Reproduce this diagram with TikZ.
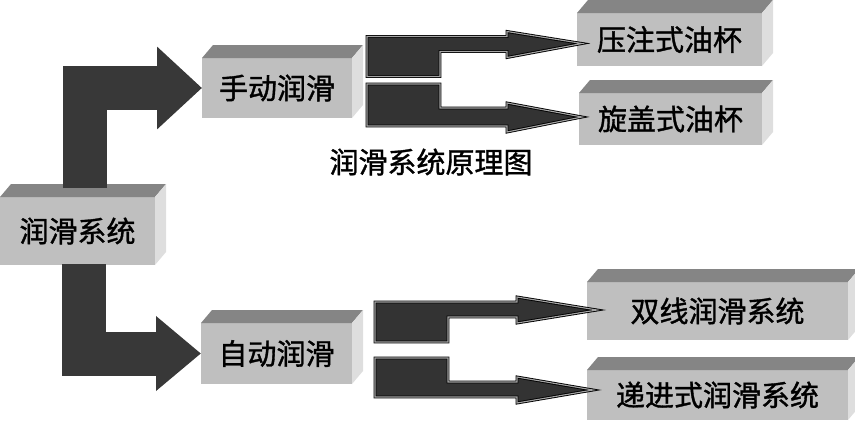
\documentclass[tikz,border=0pt]{standalone}
\usepackage{fontspec}
\newfontfamily\cjk[FakeBold=1.2]{Noto Sans CJK SC}
\usetikzlibrary{arrows.meta,calc}

\tikzset{
  box/.style={fill=black!25, inner sep=0pt, outer sep=0pt, font=\cjk\fontsize{29}{30}\selectfont},
  topface/.style={fill=black!48},
  sideface/.style={fill=black!13},
  bigarrow/.style={draw=black!78, line width=44pt, -{Triangle[length=45pt,width=#1]}},
  smallarrow/.style={fill=black!80, draw=black, double=black!35, double distance=1.1pt, line width=0.9pt, line join=miter},
}

\begin{document}
\begin{tikzpicture}[x=1pt, y=-1pt]
    \useasboundingbox (0,0) rectangle (855,431);

    % boxes
    \node[box, minimum width=155pt, minimum height=68pt] (lube) at (77.5,231) {润滑系统};
    \node[box, minimum width=150pt, minimum height=60pt] (manual) at (277,88) {手动润滑};
    \node[box, minimum width=151pt, minimum height=61pt] (auto) at (276.5,353.5) {自动润滑};
    \node[box, minimum width=185pt, minimum height=53pt] (cupA) at (669.5,39.5) {压注式油杯};
    \node[box, minimum width=183pt, minimum height=52pt] (cupB) at (670.5,119) {旋盖式油杯};
    \node[box, minimum width=261pt, minimum height=58pt] (dual) at (717.5,311) {双线润滑系统};
    \node[box, minimum width=261pt, minimum height=50pt] (prog) at (717.5,395) {递进式润滑系统};

    \node[font=\cjk\fontsize{29}{30}\selectfont] (title) at (431,162) {润滑系统原理图};

    % 3d faces
    \foreach \n in {lube,manual,auto,cupA,cupB,dual,prog} {
        \fill[topface] (\n.north west) -- ++(11,-13) -- ([shift={(11,-13)}]\n.north east) -- (\n.north east) -- cycle;
        \fill[sideface] (\n.north east) -- ++(11,-13) -- ([shift={(11,-13)}]\n.south east) -- (\n.south east) -- cycle;
    }

    % main arrows
    \draw[bigarrow=80pt] ([shift={(7,-9)}]lube.north) |- (manual.west);
    \draw[bigarrow=72pt] ([shift={(6,-1)}]lube.south) |- (auto.west);

    % small arrows
    \draw[smallarrow] ([shift={(5,4)}]cupA.west) -- ++(-75,-12) -- ++(0,5) -- ++(-140,0) -- ++(0,40)
        -- ++(73,0) -- ++(0,-25) -- ++(67,0) -- ++(0,6) -- cycle;
    \draw[smallarrow] ([shift={(3,-2)}]cupB.west) -- ++(-75,-14) -- ++(0,5) -- ++(-67,0) -- ++(0,-24)
        -- ++(-73,0) -- ++(0,42) -- ++(140,0) -- ++(0,6) -- cycle;
    \draw[smallarrow] ([shift={(10,-1)}]dual.west) -- ++(-80,-13) -- ++(0,5) -- ++(-142,0) -- ++(0,40)
        -- ++(73,0) -- ++(0,-25) -- ++(69,0) -- ++(0,6) -- cycle;
    \draw[smallarrow] ([shift={(6,-5)}]prog.west) -- ++(-76,-13) -- ++(0,5) -- ++(-69,0) -- ++(0,-24)
        -- ++(-73,0) -- ++(0,39) -- ++(142,0) -- ++(0,6) -- cycle;

\end{tikzpicture}
\end{document}
